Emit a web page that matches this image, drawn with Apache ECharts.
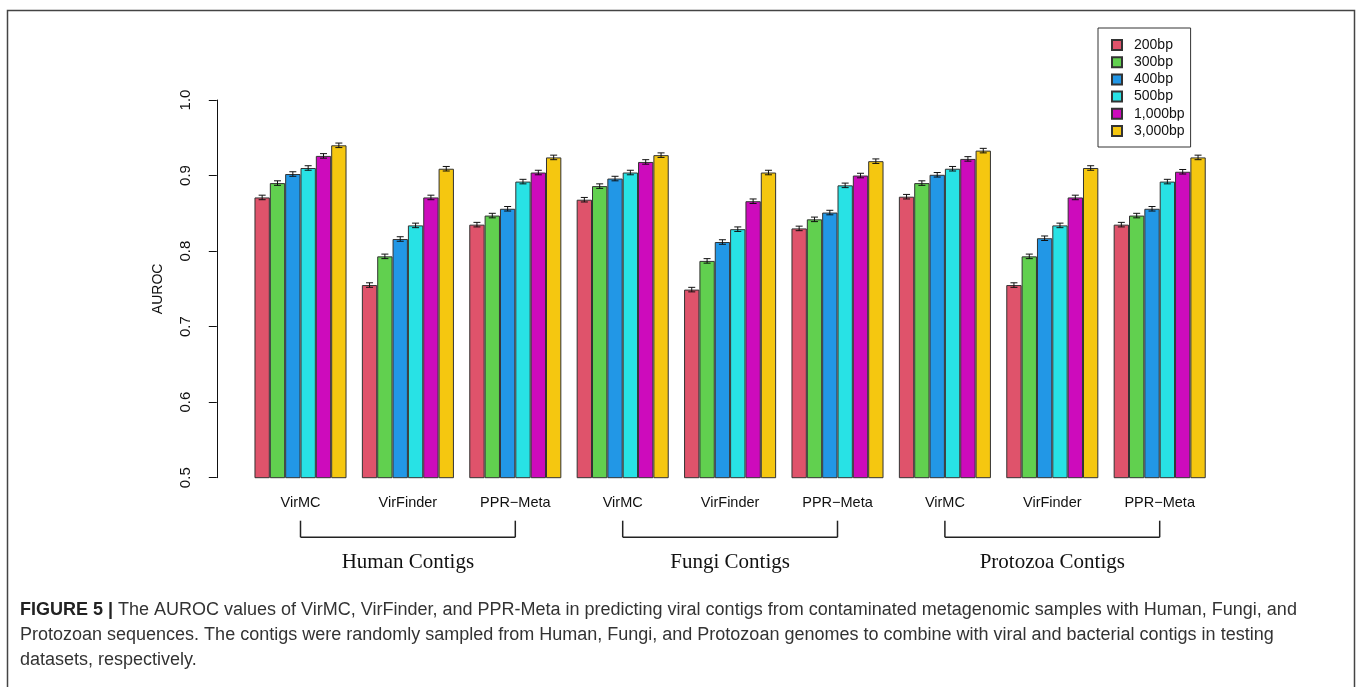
<!DOCTYPE html>
<html>
<head>
<meta charset="utf-8">
<script src="https://cdn.jsdelivr.net/npm/echarts@6/dist/echarts.min.js"></script>
<style>
html,body{margin:0;padding:0;background:#fff;}
#chart{width:1358px;height:687px;}
</style>
</head>
<body>
<div id="chart"></div>
<script>
// ---- data ----
const categories = ['VirMC','VirFinder','PPR\u2212Meta','VirMC','VirFinder','PPR\u2212Meta','VirMC','VirFinder','PPR\u2212Meta'];
const groupLabels = ['Human Contigs','Fungi Contigs','Protozoa Contigs'];
const groupSpans = [[0,2],[3,5],[6,8]];
const seriesNames = ['200bp','300bp','400bp','500bp','1,000bp','3,000bp'];
const v200  = [0.871,0.755,0.835, 0.868,0.749,0.830, 0.872,0.755,0.835];
const v300  = [0.890,0.793,0.847, 0.886,0.787,0.842, 0.890,0.793,0.847];
const v400  = [0.902,0.816,0.856, 0.896,0.812,0.851, 0.901,0.817,0.856];
const v500  = [0.910,0.834,0.892, 0.904,0.829,0.887, 0.909,0.834,0.892];
const v1000 = [0.926,0.871,0.904, 0.918,0.866,0.900, 0.922,0.871,0.905];
const v3000 = [0.940,0.909,0.924, 0.927,0.904,0.919, 0.933,0.910,0.924];
const errHalf = 0.003;
const yTicks = [0.5,0.6,0.7,0.8,0.9,1.0];

const seriesValues = [v200,v300,v400,v500,v1000,v3000];
const colors = ['#DF536B','#61D04F','#2297E6','#28E2E5','#CD0BBC','#F5C710'];

const chart = echarts.init(document.getElementById('chart'), null, {renderer:'canvas'});

const barSeries = seriesNames.map((n,i)=>({
  name:n, type:'bar', data:seriesValues[i],
  barGap:'0%', barCategoryGap:'14.2857%',
  itemStyle:{color:colors[i], borderColor:'#333', borderWidth:1},
  emphasis:{disabled:true}
}));

const errData = [];
seriesValues.forEach((arr,s)=>arr.forEach((v,c)=>errData.push([c,s,v,errHalf])));

const errSeries = {
  type:'custom', name:'err', data:errData, encode:{x:0,y:2}, z:10, silent:true,
  renderItem:function(params, api){
    const c = api.value(0), s = api.value(1), v = api.value(2), e = api.value(3);
    const bw = api.size([1,0])[0]/7;
    const cx = api.coord([c,v])[0] + (s-2.5)*bw;
    const yt = api.coord([c,v+e])[1], yb = api.coord([c,v-e])[1];
    const hw = 3.5;
    const st = {stroke:'#111', lineWidth:1};
    return {type:'group', children:[
      {type:'line', shape:{x1:cx,y1:yt,x2:cx,y2:yb}, style:st},
      {type:'line', shape:{x1:cx-hw,y1:yt,x2:cx+hw,y2:yt}, style:st},
      {type:'line', shape:{x1:cx-hw,y1:yb,x2:cx+hw,y2:yb}, style:st}
    ]};
  }
};

const bracketSeries = {
  type:'custom', name:'brackets', data:groupSpans.map(g=>[g[0],g[1],0.5]),
  encode:{x:0,y:2}, z:10, silent:true, clip:false,
  renderItem:function(params, api){
    const a = api.coord([api.value(0),0.5]);
    const b = api.coord([api.value(1),0.5]);
    const y0 = a[1];
    const st = {stroke:'#222', lineWidth:1.5};
    return {type:'group', children:[
      {type:'line', shape:{x1:a[0],y1:y0+43,x2:a[0],y2:y0+59.5}, style:st},
      {type:'line', shape:{x1:b[0],y1:y0+43,x2:b[0],y2:y0+59.5}, style:st},
      {type:'line', shape:{x1:a[0],y1:y0+59.5,x2:b[0],y2:y0+59.5}, style:st},
      {type:'text', style:{text:groupLabels[params.dataIndex], x:(a[0]+b[0])/2, y:y0+85,
        align:'center', verticalAlign:'middle', fontFamily:'Liberation Serif', fontSize:21, fill:'#111'}}
    ]};
  }
};

const captionFont = 'Liberation Sans';
const capSize = 18;
chart.setOption({
  animation:false,
  grid:{left:246.8, right:144.6, top:100, bottom:209.3},
  legend:{
    data:seriesNames, orient:'vertical', left:1098, top:28,
    padding:[10,6,9,13], borderColor:'#333', borderWidth:1,
    itemWidth:10, itemHeight:10, itemGap:3.2, icon:'rect',
    textStyle:{fontFamily:'Liberation Sans', fontSize:14, color:'#111', lineHeight:14, padding:[0,0,0,7]},
    selectedMode:false
  },
  xAxis:{
    type:'category', data:categories,
    axisLine:{show:false}, axisTick:{show:false},
    axisLabel:{margin:18, fontFamily:'Liberation Sans', fontSize:14.5, color:'#111', interval:0}
  },
  yAxis:{
    type:'value', min:0.5, max:1.0, interval:0.1, offset:30,
    name:'AUROC', nameLocation:'middle', nameGap:52, nameRotate:90,
    nameTextStyle:{fontFamily:'Liberation Sans', fontSize:14, color:'#111'},
    axisLine:{show:true, lineStyle:{color:'#111', width:1}},
    axisTick:{show:true, length:8, lineStyle:{color:'#111'}},
    splitLine:{show:false},
    axisLabel:{rotate:90, margin:23, fontFamily:'Liberation Sans', fontSize:15, color:'#111',
      formatter:function(v){ return v.toFixed(1); }}
  },
  series: barSeries.concat([errSeries, bracketSeries]),
  graphic:[
    {type:'rect', shape:{x:7.5,y:10.5,width:1347,height:720}, style:{fill:null, stroke:'#444', lineWidth:1.5}, silent:true},
    {type:'text', left:20, top:601, style:{
      text:'{b|FIGURE 5 |} The AUROC values of VirMC, VirFinder, and PPR-Meta in predicting viral contigs from contaminated metagenomic samples with Human, Fungi, and',
      rich:{b:{fontWeight:'bold', fontFamily:captionFont, fontSize:capSize, fill:'#222'}},
      fontFamily:captionFont, fontSize:capSize, fill:'#333'}},
    {type:'text', left:20, top:626, style:{
      text:'Protozoan sequences. The contigs were randomly sampled from Human, Fungi, and Protozoan genomes to combine with viral and bacterial contigs in testing',
      fontFamily:captionFont, fontSize:capSize, fill:'#333'}},
    {type:'text', left:20, top:651, style:{
      text:'datasets, respectively.', fontFamily:captionFont, fontSize:capSize, fill:'#333'}}
  ]
});
</script>
</body>
</html>
